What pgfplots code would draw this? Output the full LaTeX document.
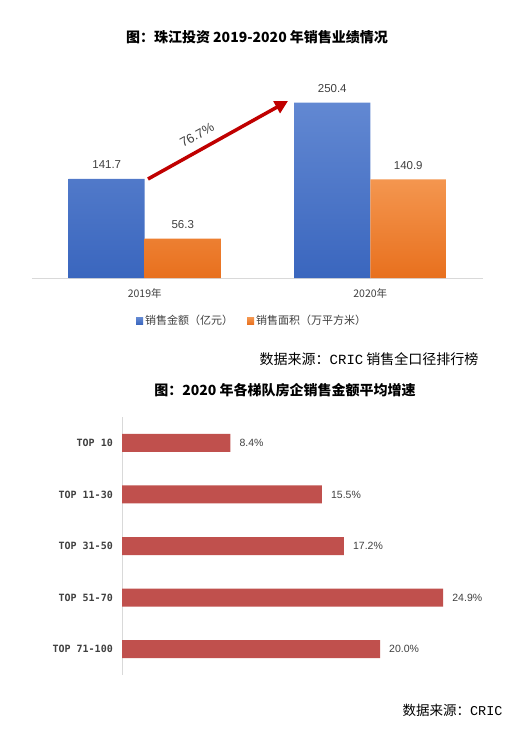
\documentclass[border=0pt]{standalone}
\usepackage{fontspec}
\setmainfont{Liberation Sans}
\newfontfamily\cjk{Noto Sans CJK SC}
\newfontfamily\mono{DejaVu Sans Mono}
\newfontfamily\cmono{Liberation Mono}
\usepackage{pgfplots}
\pgfplotsset{compat=1.18}
\usetikzlibrary{arrows.meta}
\definecolor{blueT}{HTML}{6288D2}
\definecolor{blueB}{HTML}{3A66BE}
\definecolor{orgT}{HTML}{F4964F}
\definecolor{orgB}{HTML}{E8701E}
\definecolor{barred}{HTML}{C0504D}
\definecolor{arrowred}{HTML}{C00000}
\definecolor{txt}{HTML}{404040}
\definecolor{axgray}{HTML}{D9D9D9}
\begin{document}
\begin{tikzpicture}
\useasboundingbox (0,0) rectangle (520pt,-729pt);
\fill[white] (0,0) rectangle (520pt,-729pt);
\node[font=\cjk\bfseries\fontsize{14}{16}\selectfont, text=black] at (257pt,-37pt) {图：珠江投资 2019-2020 年销售业绩情况};

\begin{axis}[
  at={(32pt,-278pt)}, anchor=south west, scale only axis,
  width=451pt, height=199.5pt,
  xmin=-0.5, xmax=1.5, ymin=0, ymax=285,
  ybar=0pt, bar width=76pt,
  axis x line*=bottom, axis y line=none,
  x axis line style={axgray, line width=0.8pt, -},
  xtick={0,1}, xticklabels={2019年,2020年}, major tick length=0pt,
  xticklabel style={font=\cjk\fontsize{10.5}{12}\selectfont, text=txt, anchor=base, inner sep=0pt, yshift=-19pt},
  ytick=\empty,
  nodes near coords={\pgfmathprintnumber[fixed,fixed zerofill,precision=1,assume math mode=true]{\pgfplotspointmeta}},
  every node near coord/.append style={font=\fontsize{11.5}{13}\selectfont, text=txt, anchor=base, inner sep=0pt, yshift=10pt},
  legend style={at={(axis description cs:0.488,-0.2155)}, anchor=center, draw=none, fill=none,
    legend columns=2, font=\cjk\fontsize{11}{13}\selectfont, text=txt,
    /tikz/every even column/.append style={column sep=12pt}},
  legend image code/.code={\fill[#1] (0pt,-3.5pt) rectangle (7pt,3.5pt);},
]
\addplot[draw=none, top color=blueT, bottom color=blueB] coordinates {(0,141.7) (1,250.4)};
\addlegendentry{销售金额（亿元）}
\addplot[draw=none, top color=orgT, bottom color=orgB] coordinates {(0,56.3) (1,140.9)};
\addlegendentry{销售面积（万平方米）}
\end{axis}

\draw[arrowred, line width=3.5pt, -{Triangle[length=13pt, width=13pt]}] (148pt,-179pt) -- (288pt,-101pt);
\node[rotate=29, font=\fontsize{13}{14}\selectfont, text=txt] at (197pt,-135pt) {76.7\%};

\node[anchor=east, font=\cjk\fontsize{14}{16}\selectfont, text=black] at (482pt,-359pt) {数据来源：{\cmono CRIC} 销售全口径排行榜};

\node[font=\cjk\bfseries\fontsize{14}{16}\selectfont, text=black] at (285pt,-390pt) {图：2020 年各梯队房企销售金额平均增速};

\begin{axis}[
  at={(122pt,-675pt)}, anchor=south west, scale only axis,
  width=361.2pt, height=258pt,
  xmin=0, xmax=28, ymin=-0.5, ymax=4.5, y dir=reverse,
  xbar, bar width=18pt,
  axis y line*=left, axis x line=none,
  y axis line style={axgray, line width=0.8pt, -},
  ytick={0,1,2,3,4},
  yticklabels={TOP 10,TOP 11-30,TOP 31-50,TOP 51-70,TOP 71-100},
  major tick length=0pt,
  yticklabel style={font=\mono\bfseries\fontsize{10}{12}\selectfont, text=txt, anchor=base east, inner sep=0pt, xshift=-9pt, yshift=-3.6pt},
  xtick=\empty,
  nodes near coords={\pgfmathprintnumber[fixed,fixed zerofill,precision=1,assume math mode=true]{\pgfplotspointmeta}\%},
  every node near coord/.append style={font=\fontsize{10.5}{12}\selectfont, text=txt, anchor=base west, inner sep=0pt, xshift=9pt, yshift=-3.6pt},
]
\addplot[draw=none, fill=barred] coordinates {(8.4,0) (15.5,1) (17.2,2) (24.9,3) (20.0,4)};
\end{axis}

\node[anchor=east, font=\cjk\fontsize{13.5}{16}\selectfont, text=black] at (506pt,-710pt) {数据来源：{\cmono CRIC}};
\end{tikzpicture}
\end{document}
